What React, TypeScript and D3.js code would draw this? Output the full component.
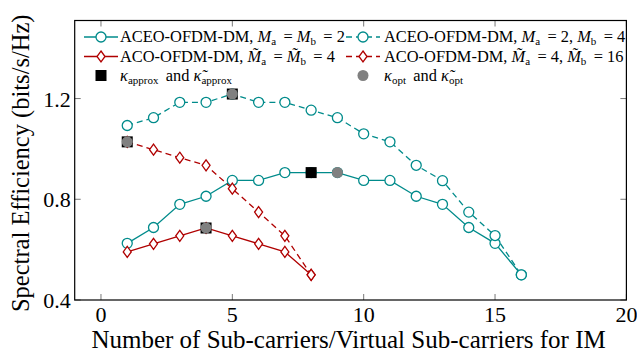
import React from "react";
import * as d3 from "d3";

const xs = d3.range(1, 17);
const aceo2 = [0.625, 0.688, 0.78, 0.812, 0.875, 0.875, 0.906, 0.906, 0.906, 0.875, 0.875, 0.812, 0.78, 0.688, 0.625, 0.5];
const aceo24 = [1.093, 1.124, 1.185, 1.185, 1.218, 1.185, 1.185, 1.154, 1.124, 1.06, 1.028, 0.935, 0.874, 0.749, 0.656, 0.5];
const xsAco = d3.range(1, 9);
const aco4 = [0.591, 0.623, 0.655, 0.686, 0.655, 0.623, 0.591, 0.5];
const aco416 = [1.028, 0.997, 0.965, 0.935, 0.842, 0.749, 0.655, 0.5];

// kappa points
const approxX = [8, 5, 4, 1];
const approxY = [0.906, 1.218, 0.686, 1.028];
const optX = [9, 5, 4, 1];
const optY = [0.906, 1.218, 0.686, 1.028];

const xTicks = [0, 5, 10, 15, 20];
const yTicks = [0.4, 0.8, 1.2];

const TEAL = "#008b8b";
const RED = "#b00000";
const GREY = "#808080";
const FONT = '"Liberation Serif"';

const W = 637;
const H = 356;
const L = 74.7, R = 626.4, T = 20.5, B = 300;

const x = d3.scaleLinear().domain([-1, 20]).range([L, R]);
const y = d3.scaleLinear().domain([0.4, 1.51]).range([B, T]);

const line = d3.line<[number, number]>().x((d) => x(d[0])).y((d) => y(d[1]));

function Circle({ cx, cy, color }: { cx: number; cy: number; color: string }) {
  return <circle cx={cx} cy={cy} r={5} fill="white" stroke={color} strokeWidth={1.3} />;
}

function Diamond({ cx, cy, color }: { cx: number; cy: number; color: string }) {
  const p = `M${cx},${cy - 5.5}L${cx + 4},${cy}L${cx},${cy + 5.5}L${cx - 4},${cy}Z`;
  return <path d={p} fill="white" stroke={color} strokeWidth={1.3} />;
}

function Series({ xv, yv, color, dashed, marker }: { xv: number[]; yv: number[]; color: string; dashed: boolean; marker: string }) {
  const pts = xv.map((d, i) => [d, yv[i]] as [number, number]);
  return (
    <g>
      <path d={line(pts) || ""} fill="none" stroke={color} strokeWidth={1.3} strokeDasharray={dashed ? "6 4" : undefined} />
      {pts.map((p, i) =>
        marker === "circle" ? (
          <Circle key={i} cx={x(p[0])} cy={y(p[1])} color={color} />
        ) : (
          <Diamond key={i} cx={x(p[0])} cy={y(p[1])} color={color} />
        )
      )}
    </g>
  );
}

function Sub({ t }: { t: string }) {
  return (
    <>
      <tspan fontSize={11} dy={3}>{t}</tspan>
      <tspan dy={-3}>{"\u2009"}</tspan>
    </>
  );
}

export default function App() {
  const fs = 16.4;
  const rows = [37, 56.5, 75.5];
  const c1 = 101, c2 = 363;
  return (
    <svg width={W} height={H} style={{ position: "fixed", left: 0, top: 0, fontFamily: FONT }}>
      <rect width={W} height={H} fill="white" />
      {/* ticks */}
      {xTicks.map((t) => (
        <g key={"x" + t}>
          <line x1={x(t)} x2={x(t)} y1={B} y2={B - 6} stroke="#555" strokeWidth={0.8} />
          <line x1={x(t)} x2={x(t)} y1={T} y2={T + 6} stroke="#555" strokeWidth={0.8} />
          <text x={x(t)} y={B + 22} fontSize={22} textAnchor="middle">{t}</text>
        </g>
      ))}
      {yTicks.map((t) => (
        <g key={"y" + t}>
          <line x1={L} x2={L + 6} y1={y(t)} y2={y(t)} stroke="#555" strokeWidth={0.8} />
          <line x1={R} x2={R - 6} y1={y(t)} y2={y(t)} stroke="#555" strokeWidth={0.8} />
          <text x={L - 4} y={y(t) + 8} fontSize={22} textAnchor="end">{t.toFixed(1)}</text>
        </g>
      ))}

      <Series xv={xs} yv={aceo2} color={TEAL} dashed={false} marker="circle" />
      <Series xv={xs} yv={aceo24} color={TEAL} dashed={true} marker="circle" />
      <Series xv={xsAco} yv={aco4} color={RED} dashed={false} marker="diamond" />
      <Series xv={xsAco} yv={aco416} color={RED} dashed={true} marker="diamond" />

      {approxX.map((d, i) => (
        <rect key={"a" + i} x={x(d) - 5.5} y={y(approxY[i]) - 5.5} width={11} height={11} fill="black" />
      ))}
      {optX.map((d, i) => (
        <circle key={"o" + i} cx={x(d)} cy={y(optY[i])} r={5.5} fill={GREY} />
      ))}

      {/* legend */}
      <g fontSize={fs}>
        <line x1={c1 - 17} x2={c1 + 17} y1={rows[0]} y2={rows[0]} stroke={TEAL} strokeWidth={1.3} />
        <Circle cx={c1} cy={rows[0]} color={TEAL} />
        <text x={c1 + 19} y={rows[0] + 5}>
          ACEO-OFDM-DM, <tspan fontStyle="italic">M</tspan><Sub t="a" /> = <tspan fontStyle="italic">M</tspan><Sub t="b" /> = 2
        </text>
        <line x1={c2 - 17} x2={c2 + 17} y1={rows[0]} y2={rows[0]} stroke={TEAL} strokeWidth={1.3} strokeDasharray="6 4" />
        <Circle cx={c2} cy={rows[0]} color={TEAL} />
        <text x={c2 + 21} y={rows[0] + 5}>
          ACEO-OFDM-DM, <tspan fontStyle="italic">M</tspan><Sub t="a" /> = 2, <tspan fontStyle="italic">M</tspan><Sub t="b" /> = 4
        </text>

        <line x1={c1 - 17} x2={c1 + 17} y1={rows[1]} y2={rows[1]} stroke={RED} strokeWidth={1.3} />
        <Diamond cx={c1} cy={rows[1]} color={RED} />
        <text x={c1 + 19} y={rows[1] + 5}>
          ACO-OFDM-DM, <tspan fontStyle="italic">M̃</tspan><Sub t="a" /> = <tspan fontStyle="italic">M̃</tspan><Sub t="b" /> = 4
        </text>
        <line x1={c2 - 17} x2={c2 + 17} y1={rows[1]} y2={rows[1]} stroke={RED} strokeWidth={1.3} strokeDasharray="6 4" />
        <Diamond cx={c2} cy={rows[1]} color={RED} />
        <text x={c2 + 21} y={rows[1] + 5}>
          ACO-OFDM-DM, <tspan fontStyle="italic">M̃</tspan><Sub t="a" /> = 4, <tspan fontStyle="italic">M̃</tspan><Sub t="b" /> = 16
        </text>

        <rect x={c1 - 5.5} y={rows[2] - 5.5} width={11} height={11} fill="black" />
        <text x={c1 + 19} y={rows[2] + 5}>
          <tspan fontStyle="italic">κ</tspan><Sub t="approx" /> and <tspan fontStyle="italic">κ̃</tspan><Sub t="approx" />
        </text>
        <circle cx={c2} cy={rows[2]} r={5.5} fill={GREY} />
        <text x={c2 + 21} y={rows[2] + 5}>
          <tspan fontStyle="italic">κ</tspan><Sub t="opt" /> and <tspan fontStyle="italic">κ̃</tspan><Sub t="opt" />
        </text>
      </g>

      <rect x={L} y={T} width={R - L} height={B - T} fill="none" stroke="black" strokeWidth={1.2} />

      <text x={(L + R) / 2 - 2} y={348} fontSize={25} textAnchor="middle">
        Number of Sub-carriers/Virtual Sub-carriers for IM
      </text>
      <text transform={`translate(29,${(T + B) / 2 + 3}) rotate(-90)`} fontSize={24.5} textAnchor="middle">
        Spectral Efficiency (bits/s/Hz)
      </text>
    </svg>
  );
}
